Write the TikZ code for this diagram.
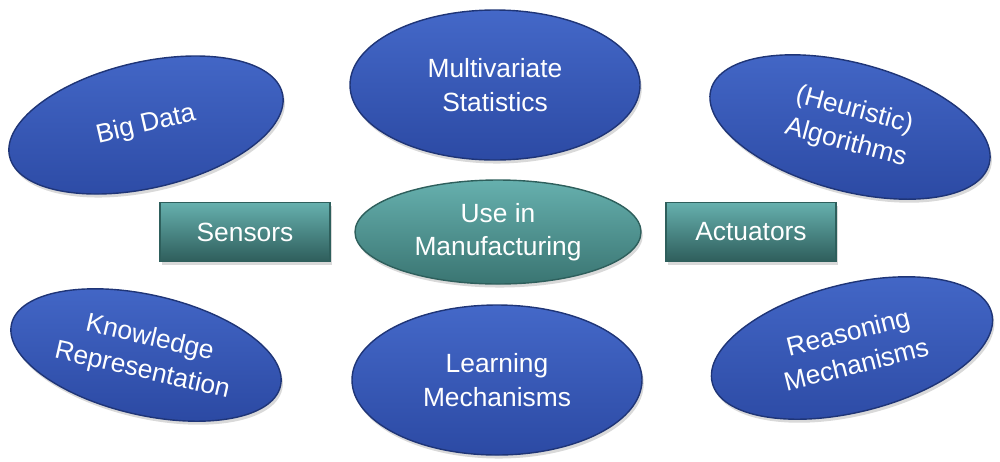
\documentclass[tikz,border=0pt]{standalone}
\usepackage{fontspec}
\setmainfont{Liberation Sans}
\usetikzlibrary{shapes.geometric,shadows}
\definecolor{bTop}{HTML}{4468C8}
\definecolor{bBot}{HTML}{2C4AA4}
\definecolor{bLine}{HTML}{1F3577}
\definecolor{tTop}{HTML}{66B0AE}
\definecolor{tBot}{HTML}{3A7572}
\definecolor{tLine}{HTML}{2E5F5C}
\begin{document}
\begin{tikzpicture}[x=0.02cm,y=-0.02cm,
  blob/.style={ellipse,draw=bLine,line width=0.8pt,top color=bTop,bottom color=bBot,
    text=white,font=\fontsize{15}{19}\selectfont,align=center,inner sep=0pt,
    drop shadow={shadow xshift=1pt,shadow yshift=-2pt,opacity=0.3}},
  tblob/.style={blob,draw=tLine,top color=tTop,bottom color=tBot},
  box/.style={rectangle,draw=tLine,line width=0.6pt,top color=tTop,bottom color=tBot!80!black,
    text=white,font=\fontsize{15}{19}\selectfont,minimum width=170*0.02cm,minimum height=59*0.02cm,
    drop shadow={shadow xshift=1pt,shadow yshift=-2pt,opacity=0.3}}]
\useasboundingbox (0,0) rectangle (1000,461);
\node[blob,minimum width=280*0.02cm,minimum height=126*0.02cm,rotate=13] (big) at (146,125) {Big Data};
\node[blob,minimum width=290*0.02cm,minimum height=150*0.02cm] (mult) at (495,85) {Multivariate\\Statistics};
\node[blob,minimum width=288*0.02cm,minimum height=128*0.02cm,rotate=-15] (heur) at (850,127) {(Heuristic)\\Algorithms};
\node[tblob,minimum width=286*0.02cm,minimum height=104*0.02cm] (use) at (498,232) {Use in\\Manufacturing};
\node[blob,minimum width=276*0.02cm,minimum height=120*0.02cm,rotate=-13] (know) at (146,355) {Knowledge\\Representation};
\node[blob,minimum width=290*0.02cm,minimum height=150*0.02cm] (learn) at (497,380) {Learning\\Mechanisms};
\node[blob,minimum width=288*0.02cm,minimum height=128*0.02cm,rotate=14] (reas) at (852,348) {Reasoning\\Mechanisms};
\node[box] (sens) at (245,232) {Sensors};
\node[box] (act) at (751,232) {Actuators};
\end{tikzpicture}
\end{document}
